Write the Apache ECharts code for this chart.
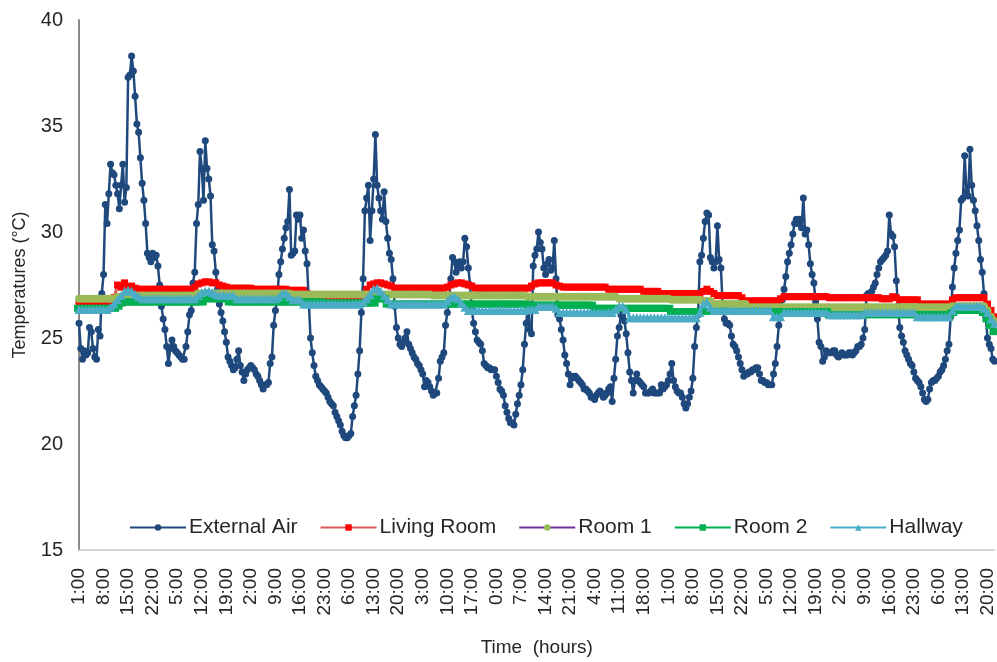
<!DOCTYPE html>
<html>
<head>
<meta charset="utf-8">
<script src="https://cdn.jsdelivr.net/npm/echarts@6/dist/echarts.min.js"></script>
<style>
html,body{margin:0;padding:0;background:#fff;}
#chart{width:997px;height:662px;}
</style>
</head>
<body>
<div id="chart"></div>
<script>
// Tick labels on the time axis (every 7 hours, starting 1:00)
const timeLabels = ['1:00','8:00','15:00','22:00','5:00','12:00','19:00','2:00','9:00','16:00','23:00','6:00','13:00','20:00','3:00','10:00','17:00','0:00','7:00','14:00','21:00','4:00','11:00','18:00','1:00','8:00','15:00','22:00','5:00','12:00','19:00','2:00','9:00','16:00','23:00','6:00','13:00','20:00'];

const seriesNames = ['External Air','Living Room','Room 1','Room 2','Hallway'];

// External Air, half-hourly readings (°C)
const externalAir = [
25.7,24.5,24.0,24.4,24.2,24.3,25.5,25.3,24.5,24.1,24.0,25.4,25.1,27.1,28.0,31.3,30.4,31.8,33.2,32.8,
32.7,32.2,31.8,31.1,32.2,33.2,31.4,32.1,37.3,37.4,38.3,37.6,36.4,35.1,34.7,33.5,32.3,31.5,30.4,29.0,
28.8,28.6,29.0,28.8,28.9,28.4,27.5,26.5,25.9,25.4,24.6,23.8,24.5,24.9,24.6,24.4,24.3,24.2,24.1,24.0,
24.0,24.6,25.3,26.1,26.3,27.6,28.1,30.4,31.3,33.8,33.0,31.5,34.3,33.0,32.5,31.7,29.4,29.1,28.1,27.3,
26.6,26.2,25.8,25.3,24.8,24.1,23.9,23.7,23.5,23.6,24.0,24.4,23.7,23.4,23.0,23.3,23.5,23.6,23.7,23.6,
23.5,23.3,23.2,23.0,22.8,22.6,22.8,22.8,22.9,23.8,24.1,25.6,26.3,26.9,28.0,28.6,29.2,29.7,30.2,30.5,
32.0,28.9,29.0,29.1,30.8,30.6,30.8,29.7,30.1,29.1,28.5,26.8,25.0,24.3,23.7,23.2,23.0,22.8,22.7,22.6,
22.5,22.4,22.2,22.0,21.9,21.8,21.5,21.3,21.1,20.9,20.6,20.4,20.3,20.3,20.4,20.5,21.3,21.8,22.3,23.3,
24.4,26.2,27.8,31.0,31.6,32.2,29.6,31.0,32.5,34.6,32.2,31.6,31.0,30.6,31.9,30.5,29.7,29.0,28.7,27.8,
26.5,25.5,25.0,24.7,24.6,24.8,25.0,25.3,24.7,24.5,24.3,24.1,24.0,23.8,23.7,23.5,23.3,22.7,23.0,22.9,
22.7,22.5,22.3,22.4,22.4,23.1,23.9,24.1,24.3,25.6,26.2,26.7,27.8,28.8,28.6,28.1,28.4,28.6,28.3,28.6,
29.7,29.3,28.3,27.5,26.3,25.7,25.3,24.9,24.8,24.7,24.4,23.8,23.7,23.6,23.6,23.5,23.5,23.5,23.2,22.9,
22.6,22.5,22.3,21.8,21.5,21.2,21.0,21.0,20.9,21.4,21.9,22.3,22.8,23.5,24.7,25.7,26.6,25.4,25.2,28.4,
28.9,29.2,30.0,29.5,29.2,28.3,28.0,28.5,28.7,28.2,28.3,29.6,27.8,26.1,25.9,25.4,24.9,24.2,23.8,23.3,
22.8,23.1,23.2,23.2,23.1,23.0,22.9,22.8,22.6,22.6,22.5,22.4,22.2,22.2,22.1,22.3,22.4,22.5,22.4,22.2,
22.3,22.4,22.6,22.7,22.0,23.1,24.0,25.1,25.5,26.1,26.0,25.8,25.2,24.3,23.4,23.0,22.4,23.0,23.3,23.0,
22.9,22.8,22.7,22.4,22.4,22.4,22.5,22.6,22.4,22.4,22.4,22.4,22.8,22.6,22.7,22.8,23.0,23.3,23.8,23.0,
22.7,22.5,22.4,22.4,22.2,21.9,21.7,21.9,22.2,22.5,23.1,24.6,25.5,26.1,28.6,28.9,29.7,30.5,30.9,30.8,
28.8,28.6,28.3,28.6,30.3,28.7,28.3,26.5,25.9,25.7,25.7,25.6,25.1,24.7,24.6,24.4,24.1,23.8,23.5,23.2,
23.3,23.3,23.4,23.4,23.5,23.5,23.6,23.6,23.3,23.0,23.0,22.9,22.9,22.8,22.8,22.8,23.3,23.8,24.6,25.6,
26.2,26.8,27.3,27.9,28.6,29.0,29.4,29.9,30.4,30.6,30.4,30.6,30.2,31.6,29.9,30.1,29.4,28.5,28.0,27.6,
26.7,25.9,24.8,24.6,23.9,24.1,24.4,24.3,24.3,24.3,24.4,24.4,24.2,24.1,24.2,24.3,24.2,24.2,24.2,24.3,
24.3,24.2,24.3,24.4,24.6,24.6,24.7,25.0,25.4,27.0,27.1,27.1,27.2,27.4,27.6,28.0,28.3,28.6,28.7,28.8,
28.9,29.1,30.8,29.9,29.8,29.3,27.7,26.5,25.5,25.1,24.8,24.4,24.2,24.0,23.8,23.7,23.4,23.1,23.0,22.9,
22.7,22.4,22.1,22.0,22.1,22.6,22.9,23.0,23.0,23.1,23.2,23.4,23.5,23.7,24.0,24.4,24.7,26.0,27.4,28.3,
29.0,29.6,30.1,31.5,31.6,33.6,31.9,31.7,33.9,32.2,31.5,31.0,30.3,29.6,28.7,28.1,27.1,26.0,25.0,24.7,
24.5,24.0,23.9
];

// Indoor series, hourly readings (°C)
const livingRoom = [
26.6,26.6,26.6,26.6,26.6,26.6,26.7,26.7,26.7,26.7,
26.9,27.5,27.4,27.6,27.4,27.45,27.35,27.3,27.3,27.3,
27.3,27.3,27.3,27.3,27.3,27.3,27.3,27.3,27.3,27.3,
27.3,27.3,27.3,27.4,27.55,27.6,27.65,27.65,27.6,27.6,
27.5,27.45,27.4,27.35,27.35,27.35,27.35,27.35,27.35,27.35,
27.3,27.3,27.3,27.3,27.3,27.3,27.3,27.3,27.3,27.3,
27.25,27.25,27.25,27.25,27.25,27.1,27.0,26.85,26.85,26.85,
26.85,26.85,26.85,26.85,26.85,26.85,26.85,26.85,26.85,26.85,
26.85,27.0,27.3,27.5,27.55,27.6,27.6,27.55,27.5,27.45,
27.35,27.35,27.35,27.35,27.35,27.35,27.35,27.35,27.35,27.35,
27.35,27.35,27.35,27.35,27.35,27.4,27.5,27.55,27.6,27.6,
27.55,27.5,27.45,27.35,27.35,27.35,27.35,27.35,27.35,27.35,
27.35,27.35,27.35,27.35,27.35,27.35,27.35,27.35,27.35,27.45,
27.55,27.6,27.6,27.6,27.6,27.6,27.5,27.45,27.4,27.4,
27.4,27.4,27.4,27.4,27.4,27.4,27.4,27.4,27.4,27.4,
27.4,27.3,27.3,27.3,27.3,27.3,27.3,27.3,27.3,27.3,
27.3,27.2,27.2,27.2,27.2,27.2,27.1,27.1,27.1,27.1,
27.1,27.1,27.1,27.1,27.1,27.1,27.1,27.1,27.2,27.3,
27.2,27.1,27.0,27.0,27.0,27.0,27.0,27.0,27.0,26.9,
26.75,26.75,26.75,26.75,26.75,26.75,26.75,26.75,26.75,26.75,
26.85,26.95,26.95,26.95,26.95,26.95,26.95,26.95,26.95,26.95,
26.95,26.95,26.95,26.95,26.9,26.9,26.9,26.9,26.9,26.9,
26.9,26.9,26.9,26.9,26.9,26.9,26.9,26.9,26.9,26.85,
26.85,26.85,26.95,26.9,26.8,26.8,26.8,26.8,26.8,26.8,
26.6,26.6,26.6,26.6,26.6,26.6,26.6,26.6,26.6,26.8,
26.9,26.9,26.9,26.9,26.9,26.9,26.9,26.9,26.9,26.6,
26.3,26.0
];

const room1 = [
26.85,26.85,26.85,26.85,26.85,26.85,26.85,26.85,26.85,26.85,
26.85,26.95,26.95,26.95,26.95,27.0,27.0,27.0,27.0,27.0,
27.0,27.0,27.0,27.0,27.0,27.0,27.0,27.0,27.0,27.0,
27.0,27.0,27.0,27.0,27.1,27.1,27.1,27.1,27.1,27.1,
27.1,27.1,27.1,27.1,27.1,27.1,27.1,27.1,27.1,27.1,
27.1,27.1,27.1,27.1,27.1,27.1,27.1,27.1,27.1,27.1,
27.1,27.05,27.05,27.05,27.05,27.05,27.05,27.05,27.05,27.05,
27.05,27.05,27.05,27.05,27.05,27.05,27.05,27.05,27.05,27.05,
27.05,27.05,27.05,27.05,27.05,27.05,27.05,27.05,27.05,27.05,
27.05,27.05,27.05,27.05,27.05,27.05,27.05,27.05,27.05,27.05,
27.05,27.0,27.0,27.0,27.0,27.0,27.0,27.0,27.0,27.0,
27.0,27.0,27.0,27.0,27.0,27.0,27.0,27.0,27.0,27.0,
27.0,27.0,27.0,27.0,27.0,27.0,27.0,27.0,26.95,26.95,
26.95,26.95,26.95,26.95,26.95,26.95,26.95,26.95,26.95,26.95,
26.95,26.95,26.95,26.95,26.95,26.95,26.95,26.95,26.95,26.95,
26.95,26.95,26.95,26.95,26.85,26.85,26.85,26.85,26.85,26.85,
26.85,26.85,26.85,26.85,26.85,26.85,26.85,26.85,26.85,26.8,
26.8,26.8,26.8,26.8,26.8,26.8,26.8,26.8,26.75,26.75,
26.75,26.6,26.6,26.6,26.6,26.6,26.6,26.6,26.6,26.6,
26.6,26.45,26.45,26.45,26.45,26.45,26.45,26.45,26.45,26.45,
26.45,26.45,26.45,26.45,26.45,26.45,26.45,26.45,26.45,26.45,
26.45,26.45,26.45,26.45,26.45,26.45,26.45,26.45,26.45,26.45,
26.45,26.45,26.45,26.45,26.45,26.45,26.45,26.45,26.45,26.45,
26.45,26.45,26.45,26.45,26.45,26.45,26.45,26.45,26.45,26.45,
26.45,26.45,26.45,26.45,26.45,26.45,26.45,26.45,26.45,26.5,
26.5,26.5,26.5,26.5,26.5,26.5,26.5,26.5,26.5,26.3,
26.0,25.8
];

const room2 = [
26.4,26.4,26.4,26.4,26.4,26.4,26.4,26.4,26.4,26.4,
26.4,26.5,26.65,26.7,26.7,26.7,26.7,26.7,26.7,26.7,
26.7,26.7,26.7,26.7,26.7,26.7,26.7,26.7,26.7,26.7,
26.7,26.7,26.7,26.7,26.7,26.7,26.85,26.85,26.85,26.85,
26.85,26.85,26.85,26.7,26.7,26.7,26.7,26.7,26.7,26.7,
26.7,26.7,26.7,26.7,26.7,26.7,26.7,26.7,26.7,26.7,
26.7,26.7,26.7,26.7,26.7,26.7,26.7,26.7,26.7,26.7,
26.65,26.65,26.65,26.65,26.65,26.65,26.65,26.65,26.65,26.65,
26.65,26.65,26.65,26.65,26.65,26.85,26.85,26.85,26.6,26.6,
26.6,26.6,26.6,26.6,26.6,26.6,26.6,26.6,26.6,26.6,
26.6,26.6,26.6,26.6,26.6,26.6,26.6,26.6,26.6,26.6,
26.6,26.6,26.6,26.6,26.6,26.6,26.6,26.6,26.6,26.6,
26.6,26.6,26.6,26.6,26.6,26.6,26.6,26.6,26.55,26.55,
26.55,26.55,26.55,26.55,26.55,26.55,26.55,26.55,26.55,26.55,
26.55,26.55,26.55,26.55,26.55,26.55,26.55,26.4,26.4,26.4,
26.4,26.4,26.4,26.4,26.4,26.4,26.4,26.4,26.4,26.4,
26.4,26.4,26.4,26.4,26.4,26.4,26.4,26.4,26.4,26.25,
26.25,26.25,26.25,26.25,26.25,26.25,26.25,26.25,26.25,26.25,
26.25,26.25,26.25,26.25,26.25,26.25,26.25,26.25,26.25,26.25,
26.25,26.25,26.25,26.25,26.25,26.25,26.25,26.25,26.25,26.25,
26.25,26.25,26.25,26.25,26.25,26.25,26.25,26.25,26.25,26.25,
26.25,26.25,26.25,26.25,26.1,26.1,26.1,26.1,26.1,26.1,
26.1,26.1,26.1,26.1,26.1,26.1,26.1,26.1,26.1,26.1,
26.1,26.1,26.1,26.1,26.1,26.1,26.1,26.1,26.1,26.1,
26.1,26.1,26.1,26.1,26.1,26.1,26.1,26.1,26.1,26.2,
26.3,26.3,26.3,26.3,26.3,26.3,26.3,26.3,26.2,25.9,
25.6,25.3
];

const hallway = [
26.35,26.35,26.35,26.35,26.35,26.35,26.35,26.35,26.35,26.45,
26.6,26.8,27.0,27.2,27.25,27.2,27.05,26.95,26.85,26.85,
26.85,26.85,26.85,26.85,26.85,26.85,26.85,26.85,26.85,26.85,
26.85,26.85,26.85,26.85,27.0,27.15,27.2,27.2,27.15,27.05,
27.0,27.0,27.0,27.0,27.0,26.85,26.85,26.85,26.85,26.85,
26.85,26.85,26.85,26.85,26.85,26.85,26.85,26.95,27.1,27.1,
26.95,26.8,26.8,26.8,26.6,26.6,26.6,26.6,26.6,26.6,
26.6,26.6,26.6,26.6,26.6,26.6,26.6,26.6,26.6,26.6,
26.6,26.7,26.85,27.05,27.3,27.35,27.2,27.0,26.8,26.6,
26.6,26.6,26.6,26.6,26.6,26.6,26.6,26.6,26.6,26.6,
26.6,26.6,26.6,26.6,26.6,26.75,26.9,26.95,26.85,26.65,
26.45,26.3,26.3,26.3,26.3,26.3,26.3,26.3,26.3,26.3,
26.3,26.3,26.3,26.3,26.3,26.3,26.3,26.3,26.35,26.35,
26.35,26.5,26.5,26.5,26.5,26.5,26.4,26.2,26.2,26.2,
26.2,26.2,26.2,26.2,26.2,26.2,26.2,26.2,26.2,26.2,
26.2,26.2,26.2,26.35,26.5,26.5,26.35,25.95,25.95,25.95,
25.95,25.95,25.95,25.95,25.95,25.95,25.95,25.95,25.95,25.95,
25.95,25.95,25.95,25.95,25.95,25.95,25.95,26.2,26.6,26.7,
26.45,26.3,26.3,26.3,26.3,26.3,26.3,26.3,26.3,26.3,
26.3,26.3,26.3,26.3,26.3,26.3,26.3,26.3,26.0,26.0,
26.0,26.2,26.2,26.2,26.2,26.2,26.2,26.2,26.2,26.2,
26.2,26.2,26.2,26.2,26.1,26.1,26.1,26.1,26.1,26.1,
26.1,26.1,26.1,26.1,26.2,26.2,26.2,26.2,26.2,26.2,
26.2,26.2,26.2,26.2,26.2,26.2,26.2,26.2,26.2,26.0,
26.0,26.0,26.0,26.0,26.0,26.0,26.0,26.0,26.0,26.3,
26.5,26.5,26.5,26.5,26.5,26.5,26.5,26.5,26.4,26.2,
25.9,25.7
];

const FONT = 'Liberation Sans, Arial, sans-serif';
const chart = echarts.init(document.getElementById('chart'), null, {renderer: 'canvas'});

function halfHourly(arr){ return arr.map((v, i) => [i * 0.5, v]); }
function hourly(arr){ return arr.map((v, i) => [i, v]); }

const option = {
  animation: false,
  backgroundColor: '#ffffff',
  grid: {left: 79, right: 0, top: 20, bottom: 102, containLabel: false},
  legend: {
    top: 512, left: 124,
    itemWidth: 56, itemHeight: 8, itemGap: 22,
    textStyle: {fontFamily: FONT, fontSize: 21, color: '#262626', padding: [0,0,0,-2]},
    data: seriesNames
  },
  xAxis: {
    type: 'value', min: 0, max: 261, interval: 7,
    name: 'Time  (hours)', nameLocation: 'middle', nameGap: 88,
    nameTextStyle: {fontFamily: FONT, fontSize: 19, color: '#262626'},
    axisLine: {show: true, lineStyle: {color: '#c8c8c8', width: 1.5}},
    axisTick: {show: false},
    splitLine: {show: false},
    axisLabel: {
      rotate: 90, margin: 18, fontFamily: FONT, fontSize: 19, color: '#262626',
      showMaxLabel: false,
      formatter: function (v) { const k = Math.round(v / 7); return (Math.abs(v - k * 7) < 1e-6 && timeLabels[k]) ? timeLabels[k] : ''; }
    }
  },
  yAxis: {
    type: 'value', min: 15, max: 40, interval: 5,
    name: 'Temperatures (°C)', nameLocation: 'middle', nameGap: 50, nameRotate: 90,
    nameTextStyle: {fontFamily: FONT, fontSize: 18, color: '#262626'},
    axisLine: {show: true, lineStyle: {color: '#8a8a8a', width: 2}},
    axisTick: {show: false},
    splitLine: {show: false},
    axisLabel: {fontFamily: FONT, fontSize: 20, color: '#262626', margin: 16}
  },
  series: [
    {
      name: seriesNames[0], type: 'line', data: halfHourly(externalAir), z: 2,
      symbol: 'circle', symbolSize: 7, showSymbol: true,
      lineStyle: {color: '#1f497d', width: 2.5},
      itemStyle: {color: '#1f497d'}
    },
    {
      name: seriesNames[1], type: 'line', data: hourly(livingRoom), z: 3,
      symbol: 'rect', symbolSize: 7, showSymbol: true,
      lineStyle: {color: '#e05a5a', width: 3},
      itemStyle: {color: '#ff0000'}
    },
    {
      name: seriesNames[2], type: 'line', data: hourly(room1), z: 4,
      symbol: 'circle', symbolSize: 8, showSymbol: true,
      lineStyle: {color: '#7030a0', width: 2.5},
      itemStyle: {color: '#9bbb59'}
    },
    {
      name: seriesNames[3], type: 'line', data: hourly(room2), z: 5,
      symbol: 'rect', symbolSize: [10, 7], showSymbol: true,
      lineStyle: {color: '#00b050', width: 3},
      itemStyle: {color: '#00b050'}
    },
    {
      name: seriesNames[4], type: 'line', data: hourly(hallway), z: 6,
      symbol: 'triangle', symbolSize: 9, showSymbol: true,
      lineStyle: {color: '#4bacc6', width: 3},
      itemStyle: {color: '#4bacc6'}
    }
  ]
};
chart.setOption(option);
</script>
</body>
</html>
